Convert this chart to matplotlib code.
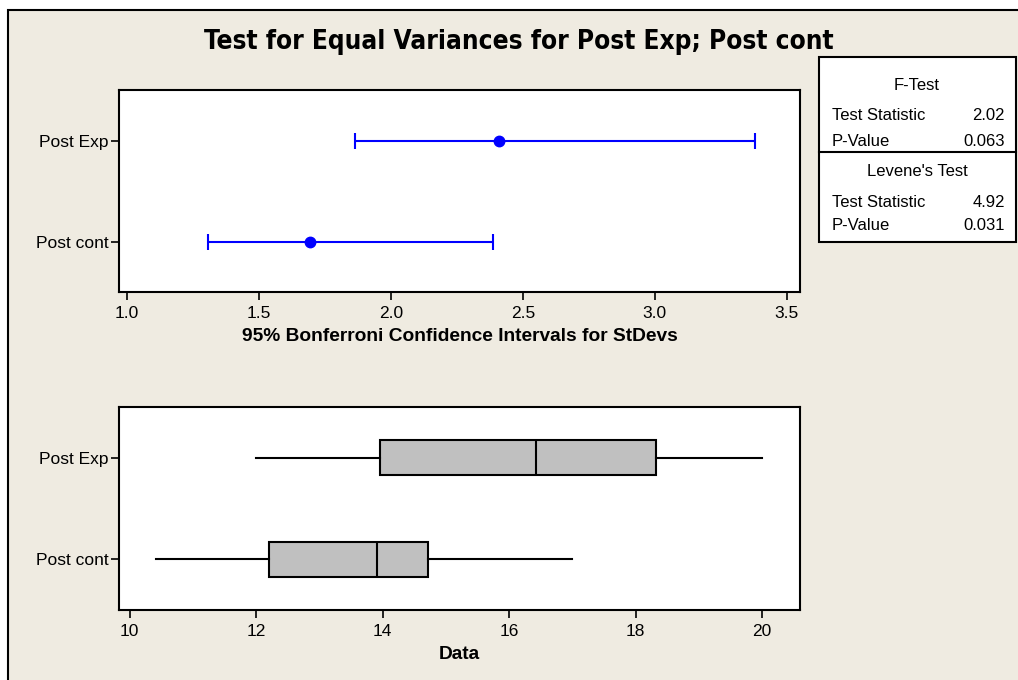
import matplotlib
matplotlib.use("Agg")
import matplotlib.pyplot as plt
from matplotlib.patches import Rectangle
from matplotlib.lines import Line2D

categories = ["Post cont", "Post Exp"]
# Bonferroni CI for StDevs
ci_low = [1.307, 1.864]
ci_point = [1.693, 2.409]
ci_high = [2.386, 3.379]
ci_ticks = [1.0, 1.5, 2.0, 2.5, 3.0, 3.5]
# Boxplot stats
whisk_low = [10.41, 12.0]
q1 = [12.2, 13.95]
median = [13.91, 16.42]
q3 = [14.71, 18.32]
whisk_high = [17.0, 20.0]
data_ticks = [10, 12, 14, 16, 18, 20]

ftest_stat = "2.02"
ftest_p = "0.063"
levene_stat = "4.92"
levene_p = "0.031"

W, H = 1018, 680
BG = "#EFEBE1"
plt.rcParams['font.family'] = ['Liberation Sans', 'DejaVu Sans']

fig = plt.figure(figsize=(W / 100, H / 100), dpi=100)
fig.patch.set_facecolor("white")

def fx(px):
    return px / W

def fy(py):
    return 1 - py / H

# beige frame (right and bottom edges run off the image)
fig.add_artist(Rectangle((fx(8), -0.05), 1.2, fy(10) + 0.05, transform=fig.transFigure,
                         facecolor=BG, edgecolor="black", linewidth=1.5, zorder=0))

fig.text(fx(519), fy(42), "Test for Equal Variances for Post Exp; Post cont",
         ha="center", va="center", fontsize=18.8, fontweight="bold", family=['DejaVu Sans'],
         fontstretch="condensed")

TL = 12.5

def style_ax(ax):
    for s in ax.spines.values():
        s.set_linewidth(1.5)
        s.set_color("black")
    ax.tick_params(axis="both", direction="out", length=6, width=1.2, labelsize=TL, colors="black")
    ax.tick_params(axis="y", pad=1.5)
    ax.tick_params(axis="x", pad=4)
    ax.set_ylim(-0.5, 1.5)
    ax.set_yticks([0, 1])
    ax.set_yticklabels(categories)

# top axes: x 119-800, y 90-292
ax1 = fig.add_axes([fx(119), fy(292), fx(800 - 119), (292 - 90) / H])
ax1.set_facecolor("white")
style_ax(ax1)
for i in range(2):
    ax1.errorbar(ci_point[i], i, xerr=[[ci_point[i] - ci_low[i]], [ci_high[i] - ci_point[i]]],
                 fmt="o", color="#0000FF", ecolor="#0000FF", elinewidth=1.5, capsize=6,
                 capthick=1.5, markersize=7.5)
ax1.set_xlim(0.97, 3.55)
ax1.set_xticks(ci_ticks)
ax1.set_xticklabels([f"{t:.1f}" for t in ci_ticks])
ax1.set_xlabel("95% Bonferroni Confidence Intervals for StDevs", fontsize=13.8, fontweight="bold",
               labelpad=5)

# bottom axes: x 119-800, y 407-610
ax2 = fig.add_axes([fx(119), fy(610), fx(800 - 119), (610 - 407) / H])
ax2.set_facecolor("white")
style_ax(ax2)
stats = []
for i in range(2):
    stats.append(dict(whislo=whisk_low[i], q1=q1[i], med=median[i], q3=q3[i],
                      whishi=whisk_high[i], fliers=[], label=categories[i]))
ax2.bxp(stats, positions=[0, 1], widths=0.34, vert=False, patch_artist=True, showcaps=False,
        boxprops=dict(facecolor="#C0C0C0", edgecolor="black", linewidth=1.5),
        medianprops=dict(color="black", linewidth=1.5),
        whiskerprops=dict(color="black", linewidth=1.5))
ax2.set_ylim(-0.5, 1.5)
ax2.set_yticks([0, 1])
ax2.set_yticklabels(categories)
ax2.set_xlim(9.83, 20.6)
ax2.set_xticks(data_ticks)
ax2.set_xticklabels([str(t) for t in data_ticks])
ax2.set_xlabel("Data", fontsize=13.8, fontweight="bold", labelpad=5)

# stats box: x 819-1016, y 57-242
fig.add_artist(Rectangle((fx(819), fy(242)), fx(1016 - 819), (242 - 57) / H,
                         transform=fig.transFigure, facecolor="white", edgecolor="black",
                         linewidth=1.5, zorder=2))
fig.add_artist(Line2D([fx(819), fx(1016)], [fy(152), fy(152)], transform=fig.transFigure,
                      color="black", linewidth=1.5, zorder=3))
fs = 12
fig.text(fx(917), fy(86), "F-Test", ha="center", va="center", fontsize=fs, zorder=4)
fig.text(fx(832), fy(116), "Test Statistic", ha="left", va="center", fontsize=fs, zorder=4)
fig.text(fx(1005), fy(116), ftest_stat, ha="right", va="center", fontsize=fs, zorder=4)
fig.text(fx(832), fy(141), "P-Value", ha="left", va="center", fontsize=fs, zorder=4)
fig.text(fx(1005), fy(141), ftest_p, ha="right", va="center", fontsize=fs, zorder=4)
fig.text(fx(917), fy(171), "Levene's Test", ha="center", va="center", fontsize=fs, zorder=4)
fig.text(fx(832), fy(202), "Test Statistic", ha="left", va="center", fontsize=fs, zorder=4)
fig.text(fx(1005), fy(202), levene_stat, ha="right", va="center", fontsize=fs, zorder=4)
fig.text(fx(832), fy(226), "P-Value", ha="left", va="center", fontsize=fs, zorder=4)
fig.text(fx(1005), fy(226), levene_p, ha="right", va="center", fontsize=fs, zorder=4)

fig.savefig("out.png", dpi=100, facecolor=fig.get_facecolor())
